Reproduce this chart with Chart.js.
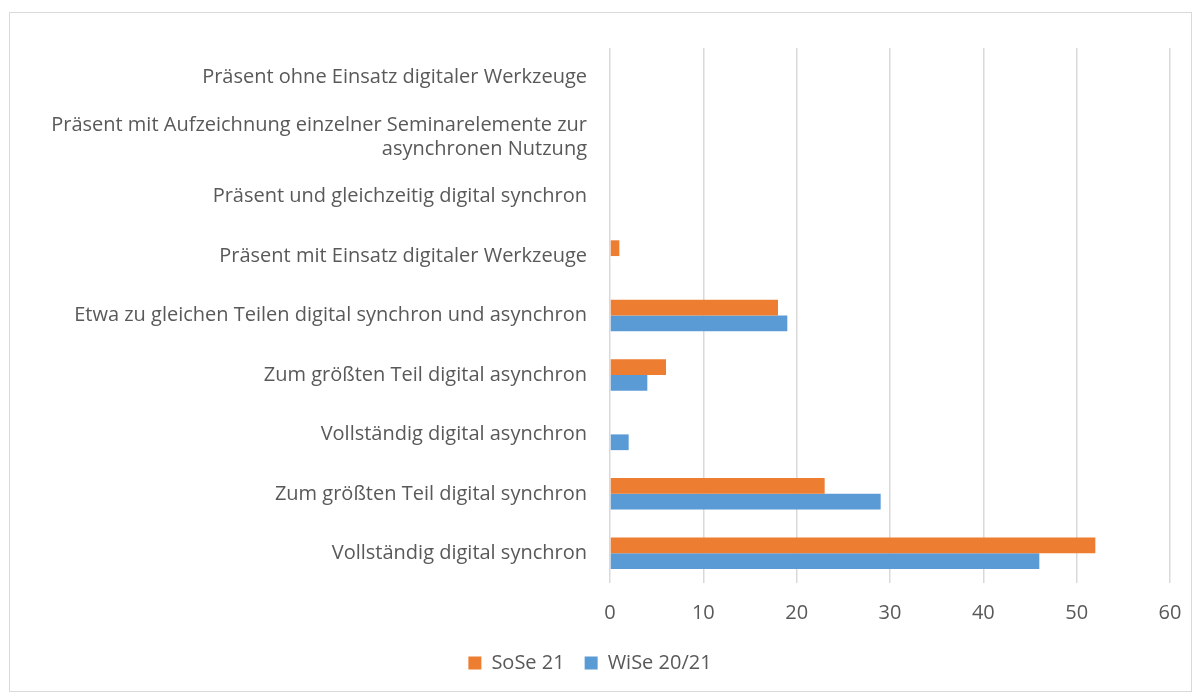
<!DOCTYPE html>
<html>
<head>
<meta charset="utf-8">
<script src="https://cdn.jsdelivr.net/npm/chart.js@4"></script>
<style>
    body { margin: 0; background: #fff; }
    #frame {
        position: absolute;
        left: 9px; top: 12px;
        width: 1181px; height: 678px;
        border: 1px solid #d9d9d9;
    }
</style>
</head>
<body>
<div id="frame"><canvas id="chart" width="1181" height="678"></canvas></div>
<script>
// categories, top to bottom as in the picture
const categories = [
    'Präsent ohne Einsatz digitaler Werkzeuge',
    ['Präsent mit Aufzeichnung einzelner Seminarelemente zur', 'asynchronen Nutzung'],
    'Präsent und gleichzeitig digital synchron',
    'Präsent mit Einsatz digitaler Werkzeuge',
    'Etwa zu gleichen Teilen digital synchron und asynchron',
    'Zum größten Teil digital asynchron',
    'Vollständig digital asynchron',
    'Zum größten Teil digital synchron',
    'Vollständig digital synchron'
];
const sose21 = [0, 0, 0, 1, 18, 6, 0, 23, 52];
const wise2021 = [0, 0, 0, 0, 19, 4, 2, 29, 46];
const xTicks = [0, 10, 20, 30, 40, 50, 60];

const textColor = '#595959';
const font = { family: '"Open Sans", sans-serif', size: 20 };

new Chart(document.getElementById('chart').getContext('2d'), {
    type: 'bar',
    data: {
        labels: categories,
        datasets: [
            { label: 'SoSe 21', data: sose21, backgroundColor: '#ED7D31' },
            { label: 'WiSe 20/21', data: wise2021, backgroundColor: '#5B9BD5' }
        ]
    },
    options: {
        indexAxis: 'y',
        responsive: false,
        animation: false,
        datasets: { bar: { categoryPercentage: 0.53, barPercentage: 1 } },
        layout: { padding: { top: 23, right: 21, left: 0, bottom: 8 } },
        plugins: {
            tooltip: { enabled: false },
            legend: {
                position: 'bottom',
                labels: {
                    color: textColor,
                    font: font,
                    boxWidth: 13,
                    boxHeight: 13,
                    padding: 20
                }
            }
        },
        scales: {
            x: {
                min: 0,
                max: 60,
                afterBuildTicks: scale => { scale.ticks = xTicks.map(v => ({ value: v })); },
                ticks: { color: textColor, font: font, padding: 18 },
                grid: { color: '#d9d9d9', lineWidth: 1.5, drawTicks: false },
                border: { display: false },
                afterFit: scale => {
                    scale.height = 50;
                    scale.paddingRight = 0;
                }
            },
            y: {
                ticks: { color: textColor, font: font, padding: 23 },
                grid: { display: false, drawTicks: false },
                border: { display: false },
                afterFit: scale => { scale.width = 600; }
            }
        }
    }
});
</script>
</body>
</html>
